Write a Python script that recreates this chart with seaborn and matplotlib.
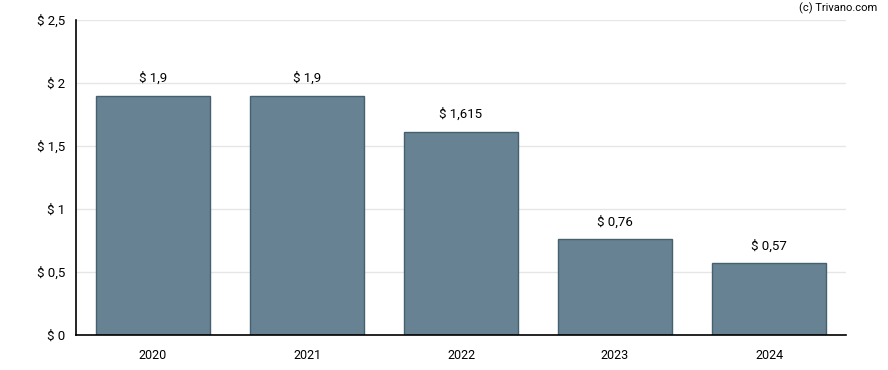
import pandas as pd
import seaborn as sns
import matplotlib.pyplot as plt

years = ["2020", "2021", "2022", "2023", "2024"]
dividends = [1.9, 1.9, 1.615, 0.76, 0.57]
labels = ["$ 1,9", "$ 1,9", "$ 1,615", "$ 0,76", "$ 0,57"]
yticks = [0, 0.5, 1, 1.5, 2, 2.5]
ytick_labels = ["$ 0", "$ 0,5", "$ 1", "$ 1,5", "$ 2", "$ 2,5"]

df = pd.DataFrame({"year": years, "value": dividends})

sns.set_style("white")
plt.rcParams["font.family"] = ["Roboto", "DejaVu Sans"]

fig = plt.figure(figsize=(8.88, 3.7), dpi=100)
ax = fig.add_axes([76 / 888, 35 / 370, 770 / 888, 315 / 370])

sns.barplot(data=df, x="year", y="value", color="#678293", saturation=1,
            width=0.74, edgecolor="#45606f", linewidth=1, ax=ax, zorder=2)

ax.set_ylim(0, 2.5)
ax.set_xlim(-0.5, 4.5)
ax.set_yticks(yticks)
ax.set_yticklabels(ytick_labels)
ax.yaxis.grid(True, color="#e6e6e6", linewidth=1, zorder=0)
ax.set_axisbelow(True)
ax.set_xlabel("")
ax.set_ylabel("")

for s in ["top", "right"]:
    ax.spines[s].set_visible(False)
for s in ["left", "bottom"]:
    ax.spines[s].set_color("#000000")
    ax.spines[s].set_linewidth(1.2)

ax.tick_params(axis="both", labelsize=9.5, colors="#000000", length=4, width=1, direction="out")
ax.tick_params(axis="x", pad=6, labelsize=9)

for i, v in enumerate(dividends):
    ax.annotate(labels[i], (i, v), xytext=(0, 7.5), textcoords="offset points",
                ha="center", va="bottom", fontsize=9.5, color="#000000")

fig.text(877 / 888, 1 - 8 / 370, "(c) Trivano.com", ha="right", va="center",
         fontsize=8, color="#000000")

fig.savefig("out.png", dpi=100)
